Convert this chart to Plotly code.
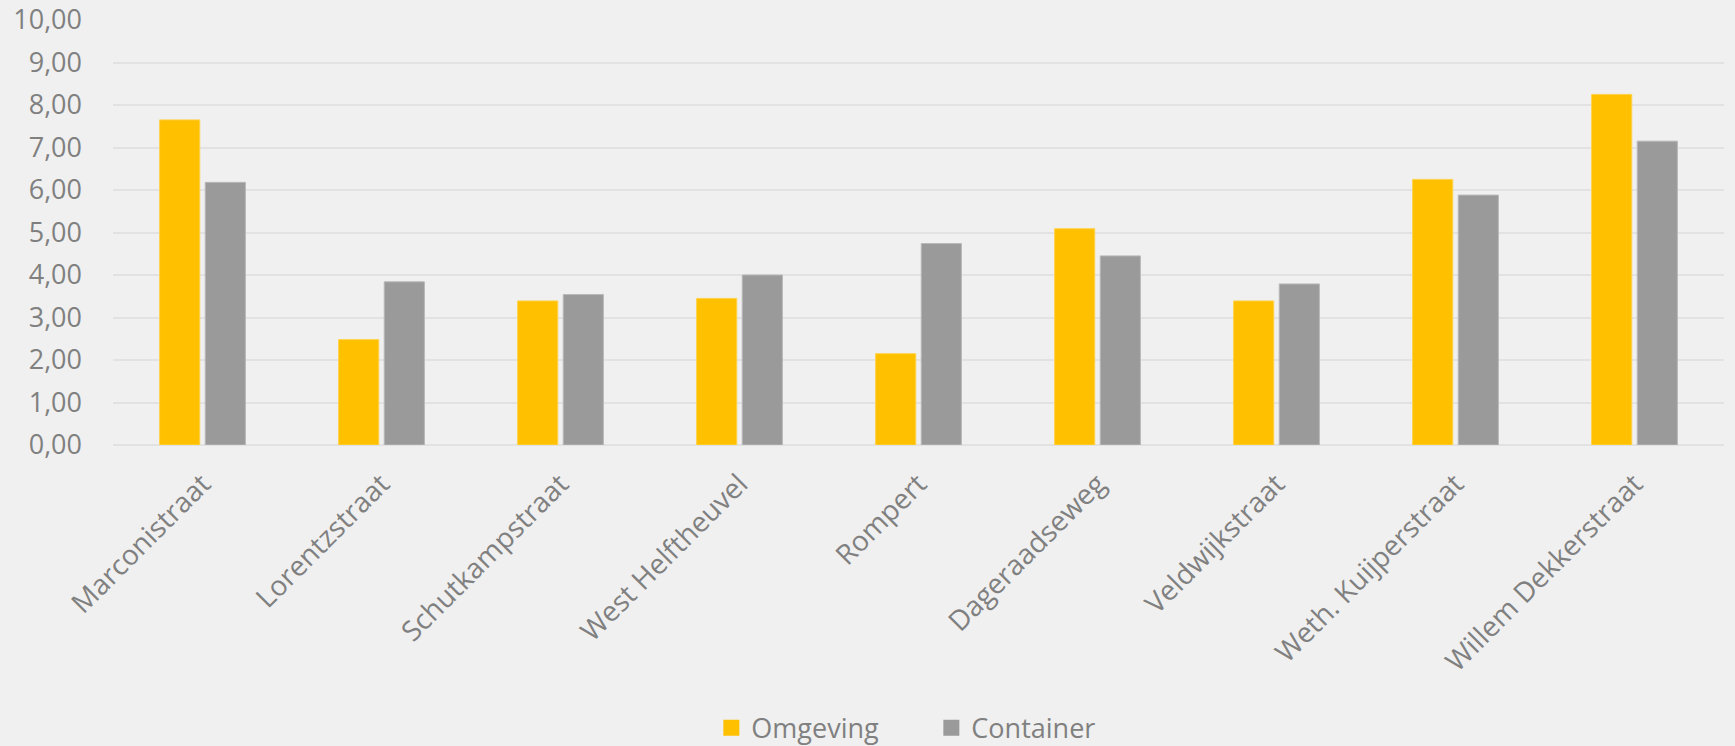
import plotly.graph_objects as go

categories = ["Marconistraat", "Lorentzstraat", "Schutkampstraat", "West Helftheuvel",
              "Rompert", "Dageraadseweg", "Veldwijkstraat", "Weth. Kuijperstraat",
              "Willem Dekkerstraat"]
omgeving = [7.65, 2.48, 3.39, 3.45, 2.15, 5.09, 3.39, 6.25, 8.25]
container = [6.18, 3.84, 3.54, 4.00, 4.74, 4.45, 3.79, 5.88, 7.15]
y_ticks = [0, 1, 2, 3, 4, 5, 6, 7, 8, 9, 10]
y_tick_labels = ["0,00", "1,00", "2,00", "3,00", "4,00", "5,00", "6,00", "7,00", "8,00", "9,00", "10,00"]

FONT = "Open Sans"
TXT = "#808080"
ORANGE = "#FFC000"
GREY = "#9A9A9A"

fig = go.Figure()
fig.add_trace(go.Bar(name="Omgeving", x=categories, y=omgeving, showlegend=False,
                     marker=dict(color=ORANGE, line=dict(color="#FFD24D", width=1))))
fig.add_trace(go.Bar(name="Container", x=categories, y=container, showlegend=False,
                     marker=dict(color=GREY, line=dict(color="#B8B8B8", width=1))))
# legend entries with square swatches
fig.add_trace(go.Scatter(name="Omgeving", x=[None], y=[None], mode="markers",
                         marker=dict(symbol="square", size=18, color=ORANGE)))
fig.add_trace(go.Scatter(name="Container", x=[None], y=[None], mode="markers",
                         marker=dict(symbol="square", size=18, color=GREY)))

fig.update_layout(
    width=1735, height=746,
    margin=dict(l=113, r=11, t=20, b=301),
    paper_bgcolor="#F0F0F0", plot_bgcolor="#F0F0F0",
    font=dict(family=FONT, size=27, color=TXT),
    barmode="group", bargap=0.49, bargroupgap=0.12,
    showlegend=True,
    legend=dict(orientation="h", xref="container", x=0.41, xanchor="left",
                yref="container", y=0.024, yanchor="middle",
                entrywidth=175, entrywidthmode="pixels",
                itemwidth=30,
                font=dict(family=FONT, size=27, color=TXT),
                bgcolor="rgba(0,0,0,0)", itemclick=False, itemdoubleclick=False),
    xaxis=dict(tickangle=-45, showgrid=False, showline=False, ticks="",
               ticklabelstandoff=16, automargin=False,
               tickfont=dict(family=FONT, size=28, color=TXT)),
    yaxis=dict(range=[0, 10], tickvals=y_ticks, ticktext=y_tick_labels,
               showgrid=True, gridcolor="#E2E2E2", gridwidth=2,
               zeroline=True, zerolinecolor="#E2E2E2", zerolinewidth=2,
               showline=False, ticks="", ticklabelstandoff=30, automargin=False,
               tickfont=dict(family=FONT, size=27, color=TXT)),
)

fig.write_html("out.html", config={"displayModeBar": False},
               post_script="document.body.style.margin='0';document.body.style.padding='0';"
                           "document.body.style.overflow='hidden';document.body.style.background='#F0F0F0';")
